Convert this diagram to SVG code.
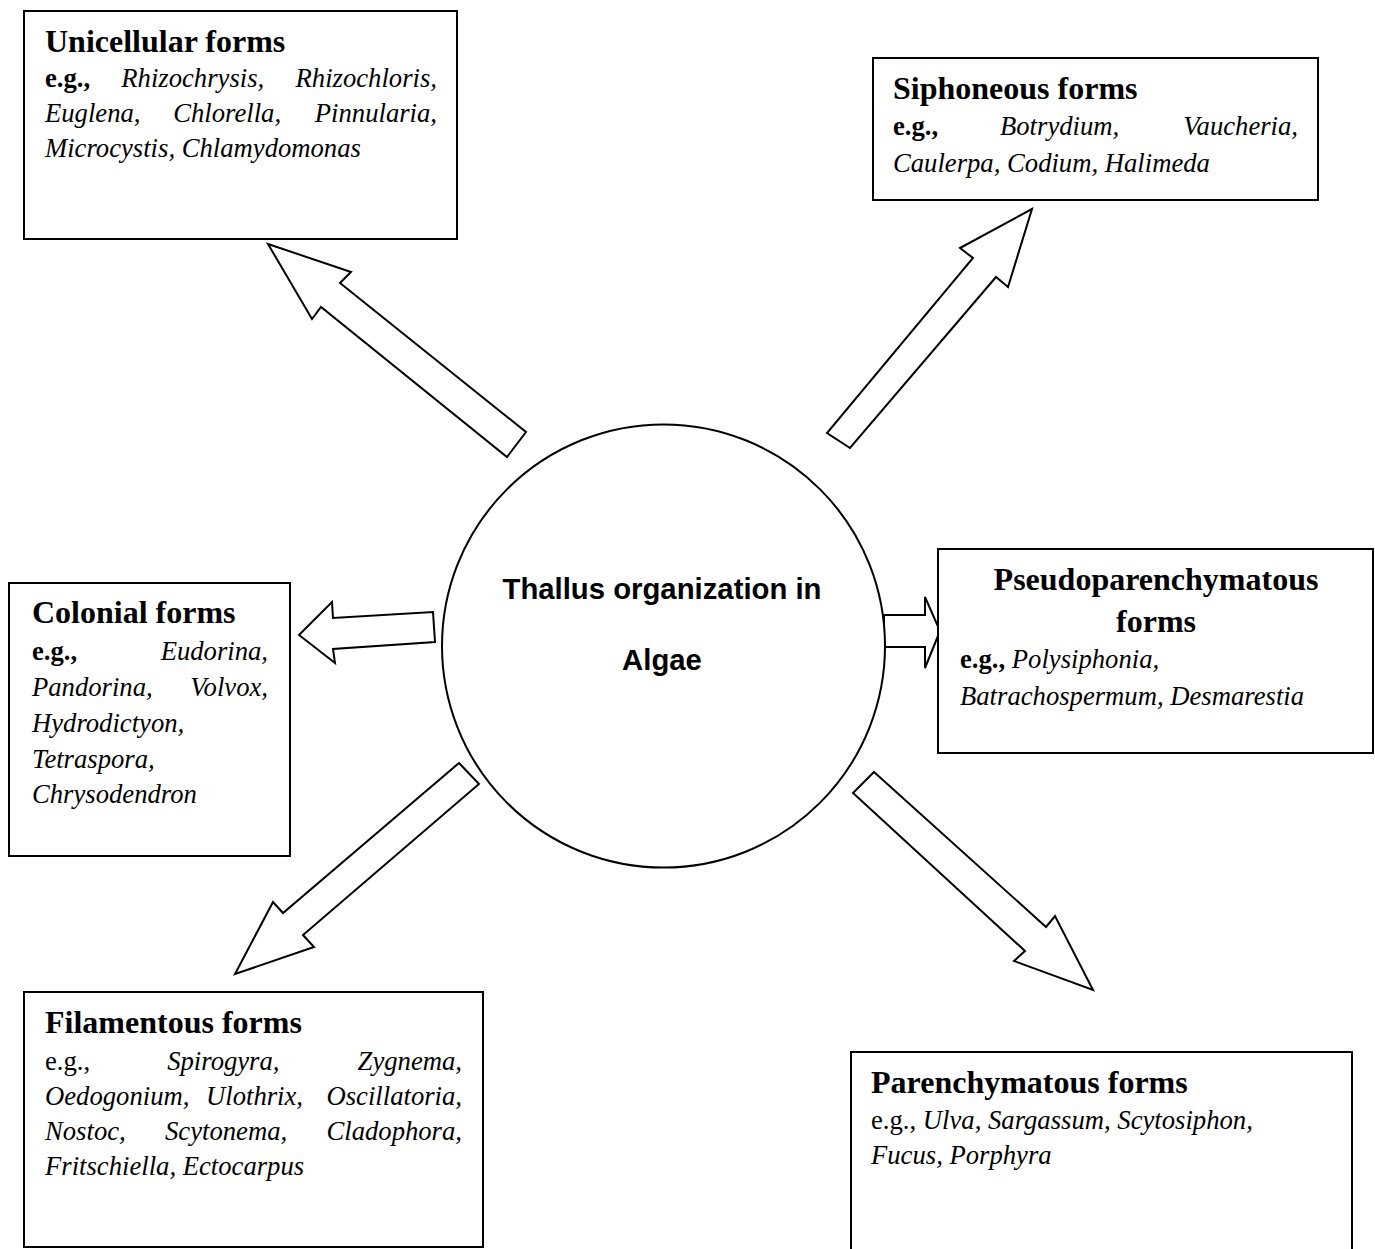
<svg xmlns="http://www.w3.org/2000/svg" width="1375" height="1249" viewBox="0 0 1375 1249">
<style>
.box{fill:#fff;stroke:#000;stroke-width:2}
.arr{fill:#fff;stroke:#000;stroke-width:2;stroke-linejoin:miter}
.t{font-family:"Liberation Serif","Times New Roman",serif;font-size:32px;font-weight:bold;fill:#000}
.b{font-family:"Liberation Serif","Times New Roman",serif;font-size:26.67px;fill:#000}
.i{font-style:italic}
.bd{font-weight:bold}
.c{font-family:"Liberation Sans",Arial,sans-serif;font-size:29.3px;font-weight:bold;fill:#000}
</style>
<rect width="1375" height="1249" fill="#fff"/>
<g id="connectors">
<polygon class="arr" points="268,244 351,272 340,283 526,432 507,457 321,307 312,319"/>
<polygon class="arr" points="1032,209 960,248 973,258 827,433 850,448 996,277 1008,287"/>
<polygon class="arr" points="299,635 332,602 333,618 433,612 435,642 333,649 335,663"/>
<polygon class="arr" points="884,615 925,615 925,597 940,631 925,668 925,647 884,647"/>
<polygon class="arr" points="459,763 479,784 303,935 314,947 235,974 273,902 283,913"/>
<polygon class="arr" points="874,772 1046,927 1055,916 1093,990 1014,961 1025,951 853,793"/>
</g>
<g id="center">
<circle cx="663.5" cy="646" r="221.5" fill="#fff" stroke="#000" stroke-width="2"/>
<text class="c" x="662" y="599" text-anchor="middle">Thallus organization in</text>
<text class="c" x="662" y="670" text-anchor="middle">Algae</text>
</g>
<g id="unicellular">
<rect class="box" x="24" y="11" width="433" height="228"/>
<text class="t" x="45" y="52">Unicellular forms</text>
<text class="b"><tspan class="bd" x="45" y="87">e.g.,</tspan><tspan class="i" x="121.3" y="87">Rhizochrysis,</tspan><tspan class="i" x="437" y="87" text-anchor="end">Rhizochloris,</tspan></text>
<text class="b i"><tspan x="45" y="122">Euglena,</tspan><tspan x="173.2" y="122">Chlorella,</tspan><tspan x="437" y="122" text-anchor="end">Pinnularia,</tspan></text>
<text class="b i" x="45" y="157">Microcystis, Chlamydomonas</text>
</g>
<g id="siphoneous">
<rect class="box" x="873" y="58" width="445" height="142"/>
<text class="t" x="893" y="99">Siphoneous forms</text>
<text class="b"><tspan class="bd" x="893" y="135">e.g.,</tspan><tspan class="i" x="1000" y="135">Botrydium,</tspan><tspan class="i" x="1298" y="135" text-anchor="end">Vaucheria,</tspan></text>
<text class="b i" x="893" y="172">Caulerpa, Codium, Halimeda</text>
</g>
<g id="colonial">
<rect class="box" x="9" y="583" width="281" height="273"/>
<text class="t" x="32" y="623">Colonial forms</text>
<text class="b"><tspan class="bd" x="32" y="660">e.g.,</tspan><tspan class="i" x="268" y="660" text-anchor="end">Eudorina,</tspan></text>
<text class="b i"><tspan x="32" y="696">Pandorina,</tspan><tspan x="268" y="696" text-anchor="end">Volvox,</tspan></text>
<text class="b i" x="32" y="732">Hydrodictyon,</text>
<text class="b i" x="32" y="768">Tetraspora,</text>
<text class="b i" x="32" y="803">Chrysodendron</text>
</g>
<g id="pseudoparenchymatous">
<rect class="box" x="938" y="549" width="435" height="204"/>
<text class="t" x="1156" y="590" text-anchor="middle">Pseudoparenchymatous</text>
<text class="t" x="1156" y="632" text-anchor="middle">forms</text>
<text class="b"><tspan class="bd" x="960" y="668">e.g.,</tspan> <tspan class="i">Polysiphonia,</tspan></text>
<text class="b i" x="960" y="705">Batrachospermum, Desmarestia</text>
</g>
<g id="filamentous">
<rect class="box" x="24" y="992" width="459" height="255"/>
<text class="t" x="45" y="1033">Filamentous forms</text>
<text class="b"><tspan x="45" y="1070">e.g.,</tspan><tspan class="i" x="167.2" y="1070">Spirogyra,</tspan><tspan class="i" x="462" y="1070" text-anchor="end">Zygnema,</tspan></text>
<text class="b i"><tspan x="45" y="1105">Oedogonium,</tspan><tspan x="206" y="1105">Ulothrix,</tspan><tspan x="462" y="1105" text-anchor="end">Oscillatoria,</tspan></text>
<text class="b i"><tspan x="45" y="1140">Nostoc,</tspan><tspan x="165" y="1140">Scytonema,</tspan><tspan x="462" y="1140" text-anchor="end">Cladophora,</tspan></text>
<text class="b i" x="45" y="1175">Fritschiella, Ectocarpus</text>
</g>
<g id="parenchymatous">
<path class="box" d="M851,1252 V1052 H1352 V1252"/>
<text class="t" x="871" y="1093">Parenchymatous forms</text>
<text class="b"><tspan x="871" y="1129">e.g.,</tspan> <tspan class="i">Ulva, Sargassum, Scytosiphon,</tspan></text>
<text class="b i" x="871" y="1164">Fucus, Porphyra</text>
</g>
</svg>
